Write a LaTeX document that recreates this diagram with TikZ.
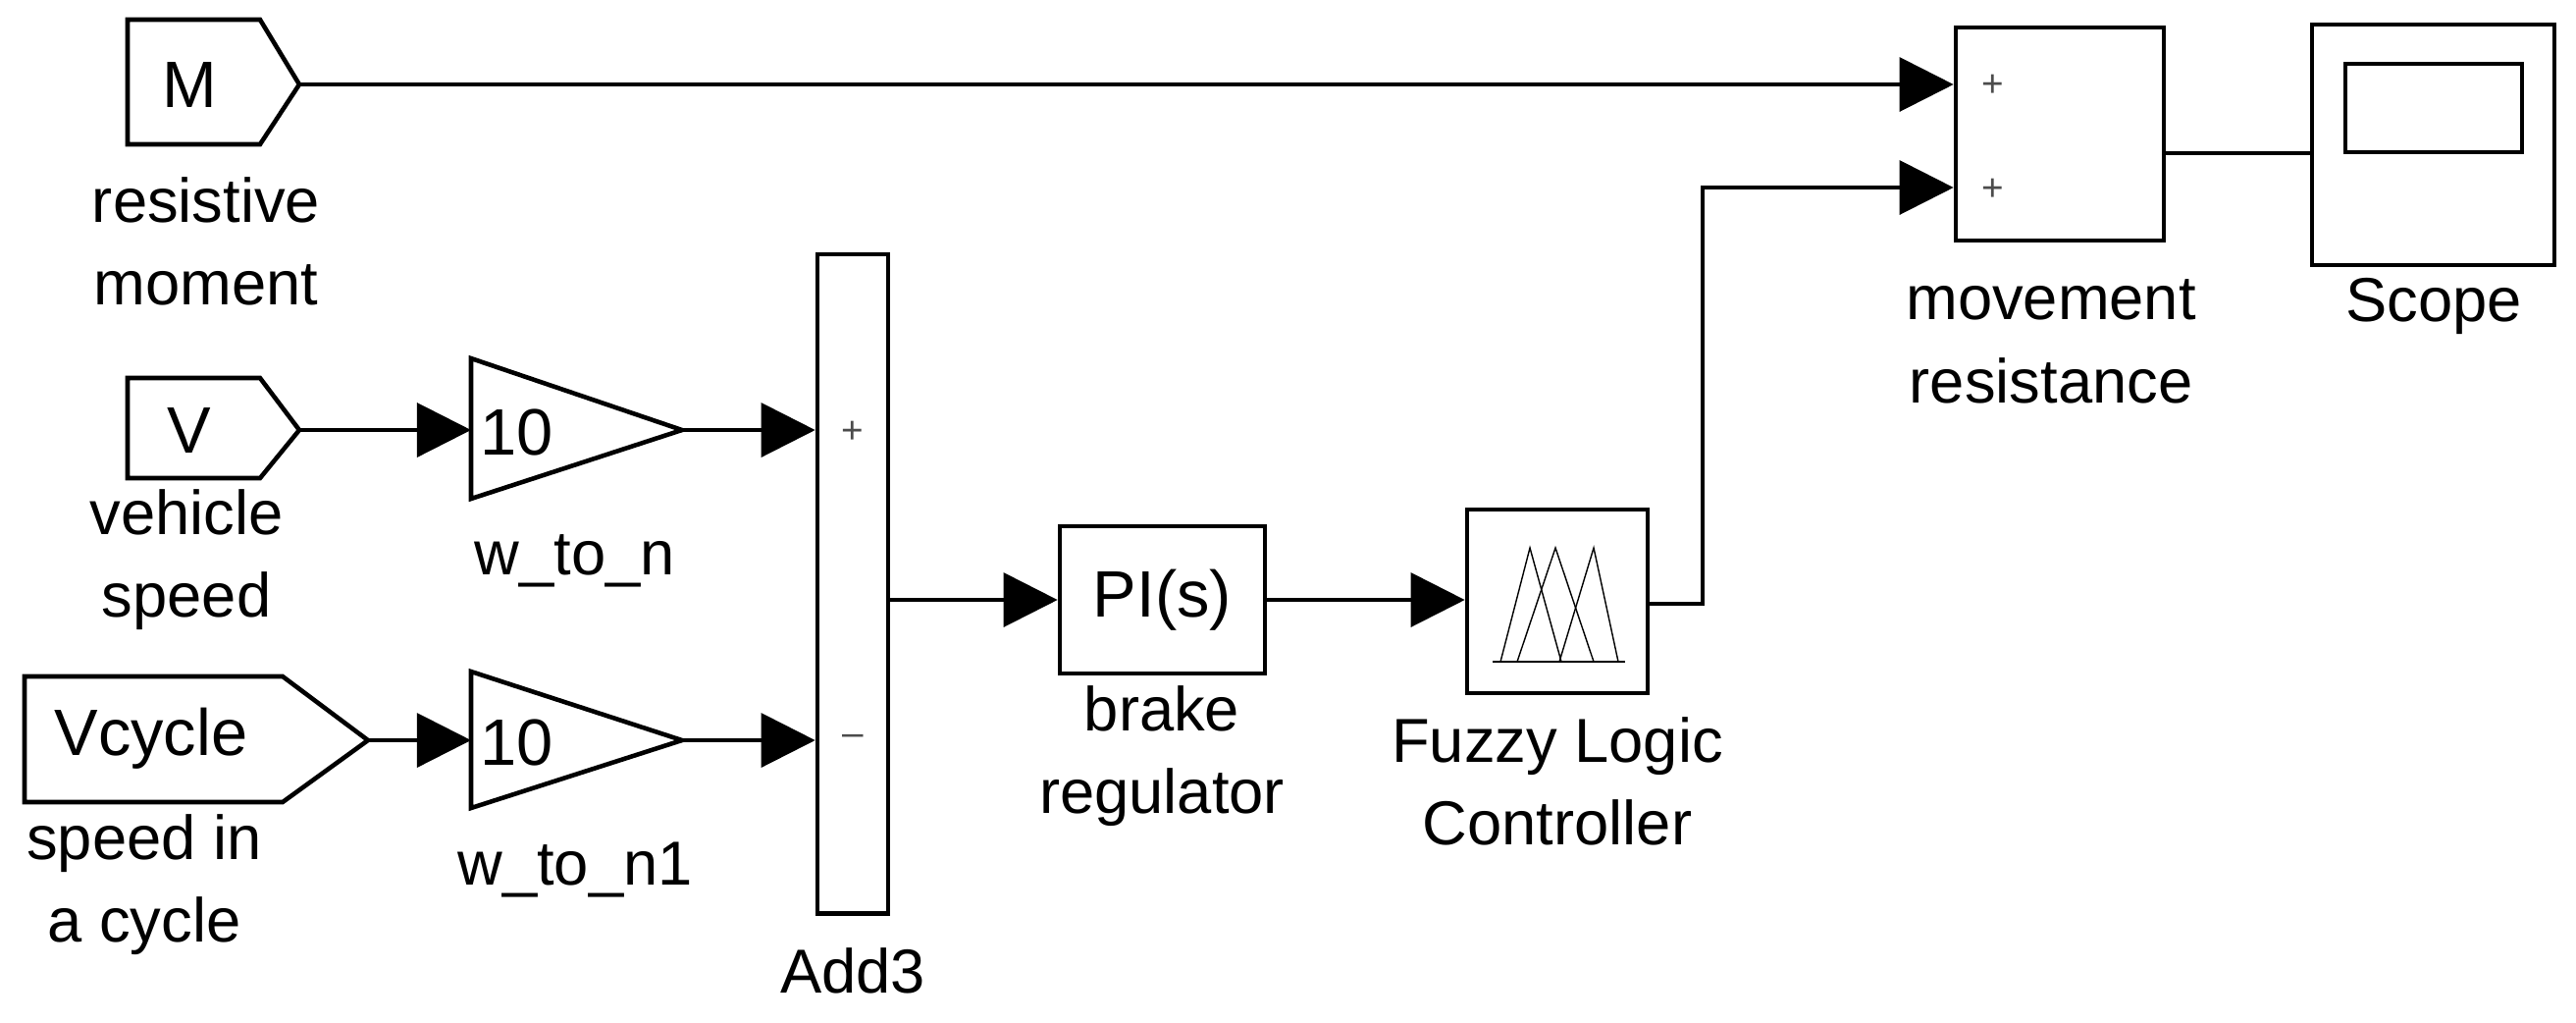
\documentclass[tikz,border=0pt]{standalone}
\usepackage{fontspec}
\setmainfont{Liberation Sans}
\usetikzlibrary{arrows.meta}
\begin{document}
\begin{tikzpicture}[x=0.01cm,y=-0.01cm,
  blk/.style={draw,line width=1.3pt,inner sep=0pt},
  wire/.style={line width=0.9pt},
  arr/.style={wire,-{Triangle[length=0.55cm,width=0.55cm]}},
  lbl/.style={font=\fontsize{18}{24}\selectfont,align=center,inner sep=0pt},
  big/.style={font=\fontsize{19}{22}\selectfont,inner sep=0pt},
  sgn/.style={font=\fontsize{11}{12}\selectfont,text=black!70,inner sep=0pt}]
\useasboundingbox (0,0) rectangle (2625,1041);
% ports
\draw[line width=1.3pt] (130,20)--(265,20)--(305,86)--(265,147)--(130,147)--cycle;
\coordinate (Mout) at (305,86);
\node[big] (M) at (193,86) {M};
\draw[line width=1.3pt] (130,385)--(265,385)--(305,438)--(265,487)--(130,487)--cycle;
\coordinate (Vout) at (305,438);
\node[big] (V) at (193,438) {V};
\draw[line width=1.3pt] (25,689)--(288,689)--(375,754)--(288,817)--(25,817)--cycle;
\coordinate (Vcout) at (375,754);
\node[big] (Vc) at (154,752) {Vcycle};
\node[lbl] (l1) at (210,246) {resistive\\moment};
\node[lbl] (l2) at (190,570) {vehicle\\speed};
\node[lbl] (l3) at (147,901) {speed in\\a cycle};
% gains
\draw[line width=1.3pt] (480,365)--(695,438)--(480,508)--cycle;
\coordinate (g1in) at (480,438); \coordinate (g1out) at (695,438);
\node[big] (k1) at (527,440) {10};
\draw[line width=1.3pt] (480,684)--(695,754)--(480,823)--cycle;
\coordinate (g2in) at (480,754); \coordinate (g2out) at (695,754);
\node[big] (k2) at (527,756) {10};
\node[lbl] (w1) at (586,571) {w\_to\_n};
\node[lbl] (w2) at (586,886) {w\_to\_n1};
% Add3
\node[blk,minimum width=0.72cm,minimum height=6.71cm] (add) at (869,594.5) {};
\node[sgn] (ap) at (869,440) {+};
\node[sgn] (am) at (869,754) {\textendash};
\node[lbl] (addl) at (869,989) {Add3};
% PI
\node[blk,minimum width=2.09cm,minimum height=1.5cm,big] (pi) at (1184.5,611) {PI(s)};
\node[lbl] (pil) at (1184,770) {brake\\regulator};
% Fuzzy
\node[blk,minimum width=1.84cm,minimum height=1.87cm] (fz) at (1587,612.5) {};
\draw[line width=0.4pt] (1521,674)--(1656,674);
\draw[line width=0.4pt] (1529,674)--(1559,558)--(1591,674);
\draw[line width=0.4pt] (1546,674)--(1585,558)--(1624,674);
\draw[line width=0.4pt] (1589,674)--(1624,558)--(1649,674);
\node[lbl] (fzl) at (1587,796) {Fuzzy Logic\\Controller};
% Sum
\node[blk,minimum width=2.12cm,minimum height=2.17cm] (sum) at (2099,136.5) {};
\node[sgn] (s1) at (2031,87) {+};
\node[sgn] (s2) at (2031,193) {+};
\node[lbl] (suml) at (2090,348) {movement\\resistance};
% Scope
\node[blk,minimum width=2.47cm,minimum height=2.45cm] (sc) at (2479.5,147.5) {};
\node[draw,line width=1.1pt,minimum width=1.8cm,minimum height=0.9cm] (scr) at (2480,110) {};
\node[lbl] (scl) at (2480,312) {Scope};
% wires
\draw[arr] (Mout) -- (sum.west |- Mout);
\draw[arr] (Vout) -- (g1in);
\draw[arr] (Vcout) -- (g2in);
\draw[arr] (g1out) -- (add.west |- g1out);
\draw[arr] (g2out) -- (add.west |- g2out);
\draw[arr] (add.east |- pi.west) -- (pi.west);
\draw[arr] (pi.east) -- (fz.west |- pi.east);
\draw[arr] (fz.east |- 0,615) -- (1735,615) -- (1735,191) -- (sum.west |- 0,191);
\draw[wire] (sum.east |- 0,156) -- (sc.west |- 0,156);
\end{tikzpicture}
\end{document}
